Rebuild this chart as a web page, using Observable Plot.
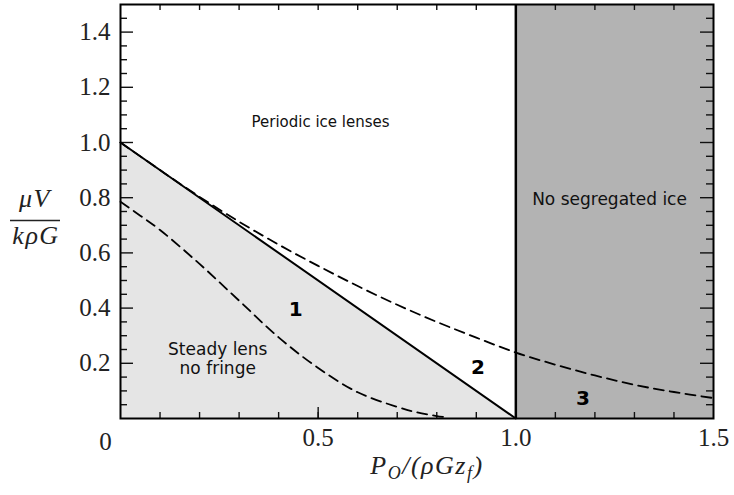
<!DOCTYPE html>
<html>
<head>
<meta charset="utf-8">
<script src="https://cdn.jsdelivr.net/npm/d3@7"></script>
<script src="https://cdn.jsdelivr.net/npm/@observablehq/plot@0.6"></script>
<style>
  body { margin: 0; background: #fff; }
  #chart svg { display: block; }
</style>
</head>
<body>
<div id="chart"></div>
<script>
// ---- data ----
const xTickValues = [0.5, 1.0, 1.5];
const yTickValues = [0.2, 0.4, 0.6, 0.8, 1.0, 1.2, 1.4];

// boundary line between steady lens and periodic ice lenses
const boundaryX = [0, 1];
const boundaryY = [1, 0];

// "no segregated ice" region bounds
const noIceX = [1, 1.5];
const noIceY = [0, 1.5];

// upper dashed curve
const upperX = [0, 0.1, 0.2, 0.3, 0.4, 0.5, 0.6, 0.7, 0.8, 0.9, 1.0, 1.1, 1.2, 1.3, 1.4, 1.5];
const upperY = [1, 0.900, 0.803, 0.713, 0.630, 0.553, 0.480, 0.412, 0.350, 0.293, 0.239, 0.195, 0.156, 0.122, 0.096, 0.074];

// lower dashed curve
const lowerX = [0, 0.05, 0.1, 0.2, 0.3, 0.4, 0.5, 0.6, 0.7, 0.75, 0.8, 0.82];
const lowerY = [0.785, 0.735, 0.683, 0.56, 0.427, 0.294, 0.183, 0.095, 0.042, 0.022, 0.009, 0.005];

// region annotations
const annText = ["Periodic ice lenses", "No segregated ice", "Steady lens\nno fringe"];
const annX = [0.506, 1.237, 0.246];
const annY = [1.072, 0.797, 0.217];
const annSize = [15, 17, 17];

const numText = ["1", "2", "3"];
const numX = [0.443, 0.904, 1.17];
const numY = [0.396, 0.186, 0.071];

// ---- layout ----
const W = 734, H = 495;
const mL = 120, mR = 21, mT = 4, mB = 77;
const pW = W - mL - mR, pH = H - mT - mB;

const xMinor = d3.range(1, 15).map(i => i / 10);
const xMajorBottom = [0.5];
const yMinor = d3.range(1, 30).map(i => i / 20).filter(v => Math.abs(v * 5 - Math.round(v * 5)) > 1e-6);
const yMajor = yTickValues;

const upper = upperX.map((x, i) => ({x, y: upperY[i]}));
const lower = lowerX.map((x, i) => ({x, y: lowerY[i]}));
const boundary = boundaryX.map((x, i) => ({x, y: boundaryY[i]}));
const ann = annText.map((t, i) => ({t, x: annX[i], y: annY[i], s: annSize[i]}));
const nums = numText.map((t, i) => ({t, x: numX[i], y: numY[i]}));

const tickStyle = {stroke: "#111", strokeWidth: 1.4};

const chart = Plot.plot({
  width: W, height: H,
  marginLeft: mL, marginRight: mR, marginTop: mT, marginBottom: mB,
  x: {domain: [0, 1.5]},
  y: {domain: [0, 1.5]},
  style: {background: "white", fontFamily: "Liberation Serif", overflow: "visible"},
  marks: [
    Plot.areaY(boundary, {x: "x", y: "y", fill: "#e5e5e5"}),
    Plot.rect([{x1: noIceX[0], x2: noIceX[1], y1: noIceY[0], y2: noIceY[1]}], {x1: "x1", x2: "x2", y1: "y1", y2: "y2", fill: "#b3b3b3"}),
    // inward ticks
    Plot.tickX(xMinor, {x: d => d, insetTop: pH - 6, ...tickStyle}),
    Plot.tickX(xMajorBottom, {x: d => d, insetTop: pH - 11, ...tickStyle}),
    Plot.tickX(xMinor, {x: d => d, insetBottom: pH - 6, ...tickStyle}),
    Plot.tickY(yMinor, {y: d => d, insetRight: pW - 7, ...tickStyle}),
    Plot.tickY(yMajor, {y: d => d, insetRight: pW - 13, ...tickStyle}),
    Plot.tickY(yMinor, {y: d => d, insetLeft: pW - 7, ...tickStyle}),
    Plot.tickY(yMajor, {y: d => d, insetLeft: pW - 13, ...tickStyle}),
    // lines
    Plot.line(boundary, {x: "x", y: "y", stroke: "#000", strokeWidth: 2}),
    Plot.ruleX([noIceX[0]], {stroke: "#000", strokeWidth: 2.5}),
    Plot.line(upper, {x: "x", y: "y", curve: "catmull-rom", stroke: "#000", strokeWidth: 1.8, strokeDasharray: "10,6"}),
    Plot.line(lower, {x: "x", y: "y", curve: "catmull-rom", stroke: "#000", strokeWidth: 1.8, strokeDasharray: "10,6"}),
    Plot.frame({stroke: "#000", strokeWidth: 2}),
    // annotations
    Plot.text(ann.filter(d => d.s === 15), {x: "x", y: "y", text: "t", fontFamily: "DejaVu Sans", fontSize: 15, fill: "#111"}),
    Plot.text(ann.filter(d => d.s === 17), {x: "x", y: "y", text: "t", fontFamily: "DejaVu Sans", fontSize: 17, fill: "#111", lineHeight: 1.13}),
    Plot.text(nums, {x: "x", y: "y", text: "t", fontFamily: "DejaVu Sans", fontSize: 20, fontWeight: "bold", fill: "#000"}),
    Plot.text([{x: 0, y: 0, t: "0"}], {x: "x", y: "y", text: "t", dx: -15, dy: 23, fontSize: 25, fill: "#222"}),
    // axes
    Plot.axisX(xTickValues, {tickSize: 0, tickPadding: 10, tickFormat: d3.format(".1f"), fontSize: 25, fill: "#222", label: null}),
    Plot.axisY(yTickValues, {tickSize: 0, tickPadding: 10, tickFormat: d3.format(".1f"), fontSize: 25, fill: "#222", label: null})
  ]
});

document.getElementById("chart").appendChild(chart);

// axis titles (math-style text)
const svg = d3.select(chart);
const yl = svg.append("g").attr("font-family", "Liberation Serif").attr("font-style", "italic").attr("font-size", 26).attr("fill", "#222").attr("text-anchor", "middle").attr("letter-spacing", 1.5);
yl.append("text").attr("x", 35).attr("y", 207).text("μV");
yl.append("line").attr("x1", 10).attr("x2", 60).attr("y1", 220.5).attr("y2", 220.5).attr("stroke", "#222").attr("stroke-width", 1.3);
yl.append("text").attr("x", 36).attr("y", 244).text("kρG");

const xl = svg.append("text").attr("x", 427).attr("y", 474).attr("text-anchor", "middle")
  .attr("font-family", "Liberation Serif").attr("font-style", "italic").attr("font-size", 26).attr("fill", "#222").attr("letter-spacing", 1.5);
xl.append("tspan").text("P");
xl.append("tspan").attr("font-size", 18).attr("dy", 5).text("O");
xl.append("tspan").attr("dy", -5).text("/(ρG");
xl.append("tspan").text("z");
xl.append("tspan").attr("font-size", 18).attr("dy", 5).text("f");
xl.append("tspan").attr("dy", -5).text(")");
</script>
</body>
</html>
